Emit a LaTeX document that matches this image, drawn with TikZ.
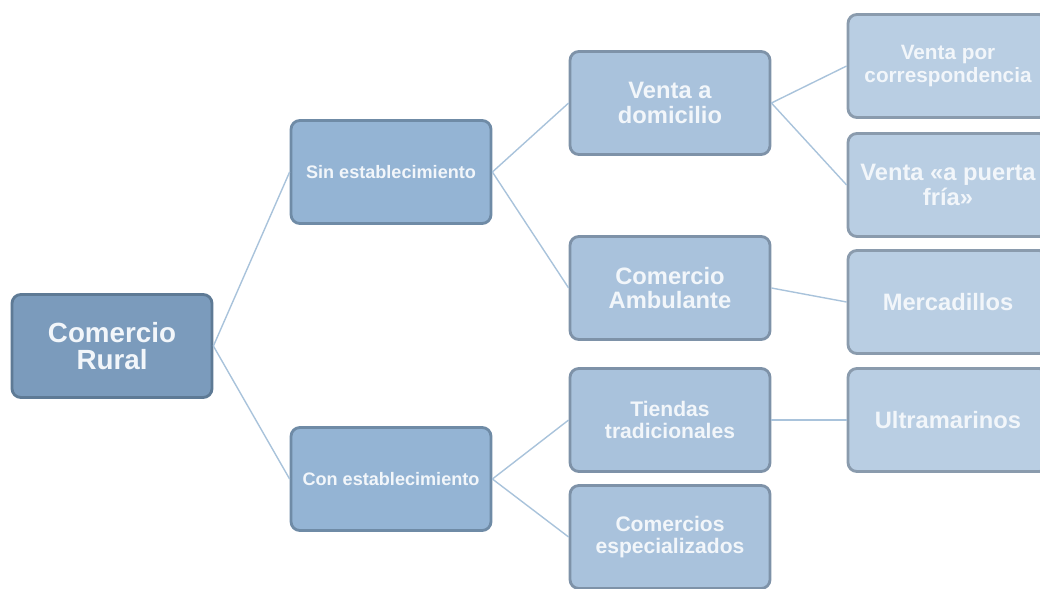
\documentclass[tikz,border=0pt]{standalone}
\usepackage{fontspec}
\setmainfont{Liberation Sans}
\usepackage{tikz}
\definecolor{fillA}{HTML}{7B9BBC}
\definecolor{lineA}{HTML}{5E7A95}
\definecolor{fillB}{HTML}{94B4D4}
\definecolor{lineB}{HTML}{6F8BA6}
\definecolor{fillC}{HTML}{A9C2DC}
\definecolor{lineC}{HTML}{7E92A8}
\definecolor{fillD}{HTML}{B9CEE3}
\definecolor{lineD}{HTML}{8A9BAD}
\definecolor{link}{HTML}{A9C3DB}
\definecolor{txt}{HTML}{F2F6FA}
\tikzset{%
    box/.style={rectangle, rounded corners=5pt, line width=1.6pt,
        minimum width=4cm, minimum height=2.06cm, inner sep=2pt,
        align=center, text=txt, font=\bfseries},
    lvA/.style={box, fill=fillA, draw=lineA, font=\bfseries\fontsize{15.8}{15.6}\selectfont},
    lvB/.style={box, fill=fillB, draw=lineB, font=\bfseries\fontsize{10.3}{11}\selectfont},
    lvC/.style={box, fill=fillC, draw=lineC, font=\bfseries\fontsize{13.5}{14.2}\selectfont},
    lvCs/.style={lvC, font=\bfseries\fontsize{12}{12.8}\selectfont},
    lvD/.style={box, fill=fillD, draw=lineD, font=\bfseries\fontsize{13.5}{14.2}\selectfont},
    lvDs/.style={lvD, font=\bfseries\fontsize{11.8}{12.6}\selectfont},
    lnk/.style={draw=link, line width=0.8pt}
}

\begin{document}
\begin{tikzpicture}[x=0.02cm, y=-0.02cm]
            \useasboundingbox (0,0) rectangle (1040,588);
            \clip (0,0) rectangle (1040,588);

            % root
            \node[lvA] (cr) at (112,346){Comercio\\Rural};

            % second level
            \node[lvB] (sin) at (391,172){Sin establecimiento};
            \node[lvB] (con) at (391,479){Con establecimiento};

            % third level
            \node[lvC] (vd) at (670,103){Venta a\\domicilio};
            \node[lvC] (ca) at (670,288){Comercio\\Ambulante};
            \node[lvCs] (tt) at (670,420){Tiendas\\tradicionales};
            \node[lvCs] (ce) at (670,537){Comercios\\especializados};

            % fourth level
            \node[lvDs] (vc) at (948,66){Venta por\\correspondencia};
            \node[lvD] (vp) at (948,185){Venta «a puerta\\fría»};
            \node[lvD] (me) at (948,302){Mercadillos};
            \node[lvD] (ul) at (948,420){Ultramarinos};

            % links
            \draw[lnk] (cr.east) -- (sin.west);
            \draw[lnk] (cr.east) -- (con.west);
            \draw[lnk] (sin.east) -- (vd.west);
            \draw[lnk] (sin.east) -- (ca.west);
            \draw[lnk] (con.east) -- (tt.west);
            \draw[lnk] (con.east) -- (ce.west);
            \draw[lnk] (vd.east) -- (vc.west);
            \draw[lnk] (vd.east) -- (vp.west);
            \draw[lnk] (ca.east) -- (me.west);
            \draw[lnk] (tt.east) -- (ul.west);
        \end{tikzpicture}
\end{document}
